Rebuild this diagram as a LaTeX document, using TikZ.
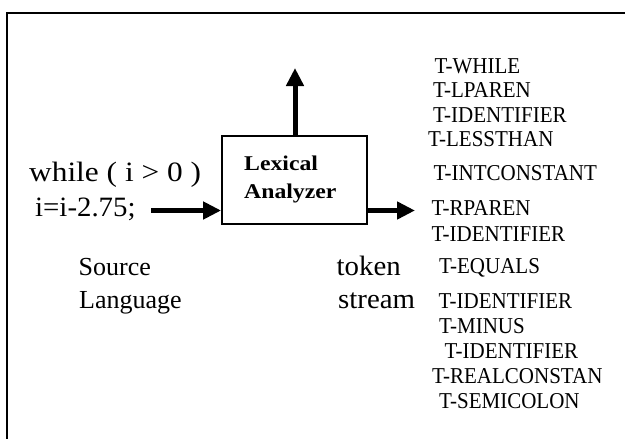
\documentclass[tikz,border=0pt]{standalone}
\usepackage{fontspec}
\setmainfont{Liberation Serif}
\usetikzlibrary{arrows.meta}
% horizontally widened text
\newcommand\hwide[2]{\scalebox{#1}[1]{#2}}
% slightly taller token names
\newcommand\tall[1]{\scalebox{1}[1.08]{#1}}
\begin{document}
\begin{tikzpicture}[x=1pt,y=-1pt,
  txt/.style={anchor=base west, inner sep=0pt, font=\fontsize{26}{30}\selectfont},
  code/.style={anchor=base west, inner sep=0pt, font=\fontsize{28}{32}\selectfont},
  tok/.style={anchor=base west, inner sep=0pt, font=\fontsize{21}{25}\selectfont},
  boxlbl/.style={anchor=base west, inner sep=0pt, font=\fontsize{21}{25}\selectfont\bfseries},
  flow/.style={line width=5pt, -{Triangle[length=18pt,width=17pt]}},
  frame/.style={line width=2pt},
  unit/.style={draw, line width=1.8pt, minimum width=145pt, minimum height=88pt, inner sep=0pt}]
\useasboundingbox (0,0) rectangle (625,439);
\clip (0,0) rectangle (625,439);
% outer frame, running past the right and bottom edges
\draw[frame] (6.5,12.5) rectangle (700,520);

% the lexical analyzer block
\node[unit] (lex) at (294.5,180) {};
\node[boxlbl] (lexa) at (244,170.5) {\hwide{1.13}{Lexical}};
\node[boxlbl] (lexb) at (244,198) {\hwide{1.13}{Analyzer}};

% source program
\node[code] (src1) at (29,181) {\hwide{1.12}{while ( i > 0 )}};
\node[code] (src2) at (35,216) {\hwide{1.03}{i=i-2.75;}};
\node[txt] (srcA) at (78.5,275) {Source};
\node[txt] (srcB) at (79,308.5) {Language};

% token stream caption
\node[code] (tsA) at (336.5,275) {\hwide{1.03}{token}};
\node[code] (tsB) at (338,308.5) {\hwide{1.03}{stream}};

% tokens
\node[tok] (t1)  at (434.5,73)   {\tall{T-WHILE}};
\node[tok] (t2)  at (433,97)     {\tall{T-LPAREN}};
\node[tok] (t3)  at (433,122)    {\tall{T-IDENTIFIER}};
\node[tok] (t4)  at (428,146.7)  {\tall{T-LESSTHAN}};
\node[tok] (t5)  at (433.5,180.5){\tall{T-INTCONSTANT}};
\node[tok] (t6)  at (431.5,215.5){\tall{T-RPAREN}};
\node[tok] (t7)  at (431.5,241.7){\tall{T-IDENTIFIER}};
\node[tok] (t8)  at (439,273.3)  {\tall{T-EQUALS}};
\node[tok] (t9)  at (438.5,308)  {\tall{T-IDENTIFIER}};
\node[tok] (t10) at (439,333.3)  {\tall{T-MINUS}};
\node[tok] (t11) at (444.5,358.3){\tall{T-IDENTIFIER}};
\node[tok] (t12) at (432,383)    {\tall{T-REALCONSTAN}};
\node[tok] (t13) at (439,408)    {\tall{T-SEMICOLON}};

% arrow ends
\coordinate (inend) at (151,210.5);
\coordinate (outend) at (415,210.5);
\coordinate (upend) at (295,68);

\draw[flow] (inend) -- (inend -| lex.west);
\draw[flow] (lex.east |- outend) -- (outend);
\draw[flow] (lex.north -| upend) -- (upend);
\end{tikzpicture}
\end{document}
